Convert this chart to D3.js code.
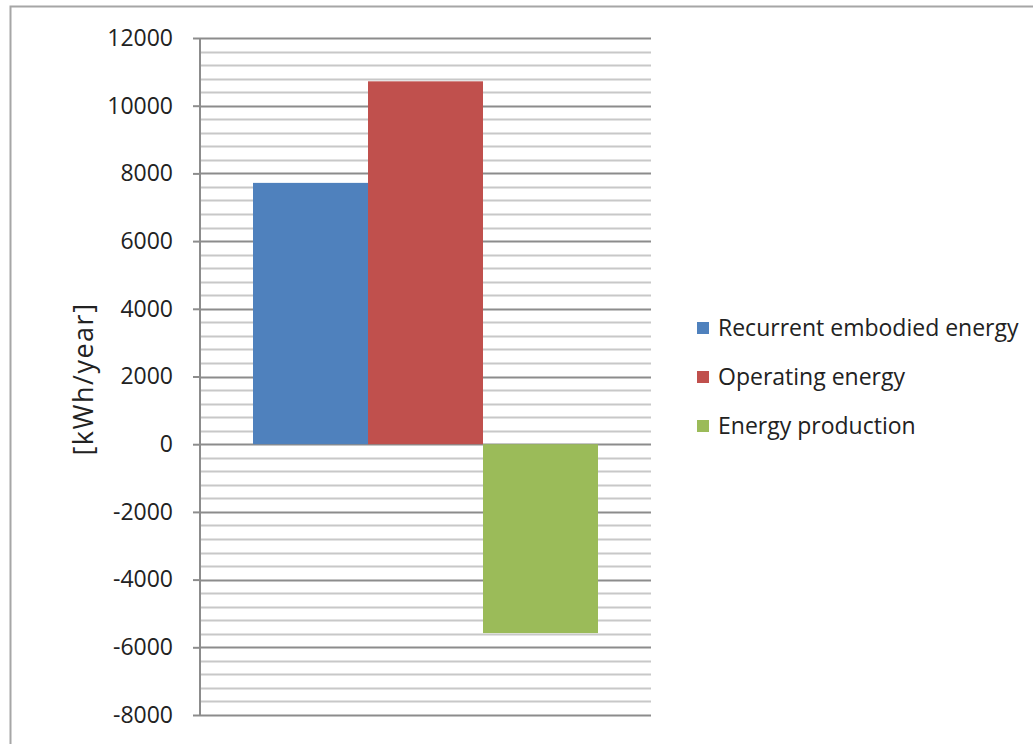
<!DOCTYPE html>
<html>
<head>
<meta charset="utf-8">
<script src="https://cdn.jsdelivr.net/npm/d3@7"></script>
<style>
  body { margin: 0; background: #fff; }
  text { font-family: "Open Sans", sans-serif; fill: #222; }
</style>
</head>
<body>
<svg id="chart" width="1033" height="744"></svg>
<script>
// data
var seriesNames = ["Recurrent embodied energy", "Operating energy", "Energy production"];
var seriesValues = [7720, 10720, -5580];
var seriesColors = ["#4F81BD", "#C0504D", "#9BBB59"];
var yTicks = [-8000, -6000, -4000, -2000, 0, 2000, 4000, 6000, 8000, 10000, 12000];
var yLabel = "[kWh/year]";

var svg = d3.select("#chart");

// outer frame (left + top only visible)
svg.append("path")
    .attr("d", "M10.5,744 V6.5 H1033")
    .attr("fill", "none")
    .attr("stroke", "#a6a6a6")
    .attr("stroke-width", 2);

var plotLeft = 200, plotRight = 651, plotTop = 38, plotBottom = 715;

var y = d3.scaleLinear()
    .domain([-8000, 12000])
    .range([plotBottom, plotTop]);

var x = d3.scaleBand()
    .domain(seriesNames)
    .range([253, 598])
    .padding(0);

// minor gridlines every 400
var minor = d3.range(-8000, 12001, 400).filter(function(d){ return d % 2000 !== 0; });
svg.append("g").selectAll("line")
    .data(minor)
    .enter().append("line")
    .attr("x1", plotLeft).attr("x2", plotRight)
    .attr("y1", function(d){ return Math.round(y(d)) + 0.5; })
    .attr("y2", function(d){ return Math.round(y(d)) + 0.5; })
    .attr("stroke", "#c8c8c8")
    .attr("stroke-width", 2);

// major gridlines
svg.append("g").selectAll("line")
    .data(yTicks)
    .enter().append("line")
    .attr("x1", plotLeft).attr("x2", plotRight)
    .attr("y1", function(d){ return Math.round(y(d)) + 0.5; })
    .attr("y2", function(d){ return Math.round(y(d)) + 0.5; })
    .attr("stroke", "#8c8c8c")
    .attr("stroke-width", 2);

// bars
svg.append("g").selectAll("rect")
    .data(seriesValues)
    .enter().append("rect")
    .attr("x", function(d, i){ return x(seriesNames[i]); })
    .attr("width", x.bandwidth())
    .attr("y", function(d){ return y(Math.max(0, d)); })
    .attr("height", function(d){ return Math.abs(y(d) - y(0)); })
    .attr("fill", function(d, i){ return seriesColors[i]; });

// y axis (plain hyphen for negatives, like the original)
var axis = svg.append("g")
    .attr("transform", "translate(" + plotLeft + ",0)")
    .call(d3.axisLeft(y).tickValues(yTicks).tickSize(7).tickPadding(20)
          .tickFormat(function(d){ return String(d); }));
axis.select(".domain").attr("stroke", "#8c8c8c").attr("stroke-width", 2).attr("d", "M0," + plotTop + "V" + plotBottom);
axis.selectAll(".tick line").attr("stroke", "#8c8c8c").attr("stroke-width", 2);
axis.selectAll(".tick text")
    .style("font-family", "'Open Sans', sans-serif")
    .style("font-size", "23px")
    .attr("fill", "#222");

// y label
svg.append("text")
    .attr("transform", "translate(93," + 379 + ") rotate(-90)")
    .attr("text-anchor", "middle")
    .style("font-size", "27px")
    .style("letter-spacing", "1.5px")
    .text(yLabel);

// legend
var legend = svg.append("g").selectAll("g")
    .data(seriesNames)
    .enter().append("g")
    .attr("transform", function(d, i){ return "translate(697," + (328 + i * 49) + ")"; });
legend.append("rect")
    .attr("x", 0).attr("y", -6)
    .attr("width", 12).attr("height", 12)
    .attr("fill", function(d, i){ return seriesColors[i]; });
legend.append("text")
    .attr("x", 21).attr("y", 0)
    .attr("dy", "0.35em")
    .style("font-size", "23px")
    .text(function(d){ return d; });
</script>
</body>
</html>
